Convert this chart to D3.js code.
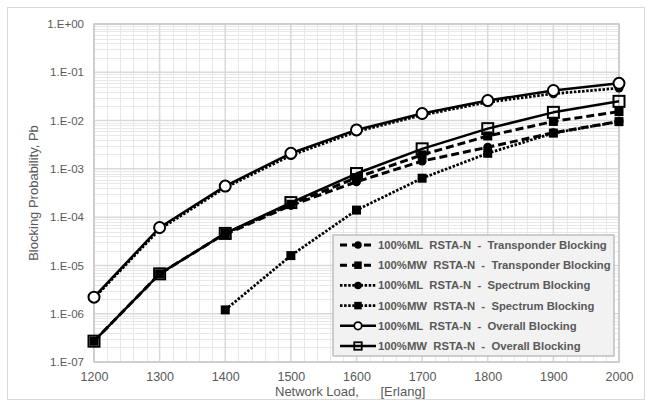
<!DOCTYPE html>
<html>
<head>
<meta charset="utf-8">
<script src="https://cdn.jsdelivr.net/npm/d3@7"></script>
<style>
  html, body { margin: 0; padding: 0; background: #fff; }
  svg { display: block; font-family: "Liberation Sans", Arial, sans-serif; }
</style>
</head>
<body>
<svg id="chart" width="651" height="403"></svg>
<script>
// Network load (Erlang) on the x axis
const loads = [1200, 1300, 1400, 1500, 1600, 1700, 1800, 1900, 2000];

// Blocking probability per scenario (null = no blocking observed)
const mlTransponder = [null, null, 4.4e-5, 1.75e-4, 5.4e-4, 1.45e-3, 2.8e-3, 5.6e-3, 9.6e-3];
const mwTransponder = [2.7e-7, 6.7e-6, 4.6e-5, 1.85e-4, 6.6e-4, 1.95e-3, 4.8e-3, 9.6e-3, 1.53e-2];
const mlSpectrum    = [2.1e-6, 5.6e-5, 4.1e-4, 1.9e-3, 5.9e-3, 1.3e-2, 2.4e-2, 3.6e-2, 4.7e-2];
const mwSpectrum    = [null, null, 1.2e-6, 1.6e-5, 1.4e-4, 6.4e-4, 2.1e-3, 5.5e-3, 9.5e-3];
const mlOverall     = [2.2e-6, 6.1e-5, 4.4e-4, 2.1e-3, 6.4e-3, 1.4e-2, 2.6e-2, 4.2e-2, 5.9e-2];
const mwOverall     = [2.7e-7, 6.7e-6, 4.6e-5, 2.0e-4, 8.0e-4, 2.6e-3, 6.8e-3, 1.48e-2, 2.5e-2];

const seriesNames = [
  "100%ML  RSTA-N  -  Transponder Blocking",
  "100%MW  RSTA-N  -  Transponder Blocking",
  "100%ML  RSTA-N  -  Spectrum Blocking",
  "100%MW  RSTA-N  -  Spectrum Blocking",
  "100%ML  RSTA-N  -  Overall Blocking",
  "100%MW  RSTA-N  -  Overall Blocking"
];

const xTickValues = [1200, 1300, 1400, 1500, 1600, 1700, 1800, 1900, 2000];
const yTickValues = [1e0, 1e-1, 1e-2, 1e-3, 1e-4, 1e-5, 1e-6, 1e-7];
const yTickLabels = ["1.E+00", "1.E-01", "1.E-02", "1.E-03", "1.E-04", "1.E-05", "1.E-06", "1.E-07"];

const xTitle = "Network Load,      [Erlang]";
const yTitle = "Blocking Probability, Pb";

// ---- layout ----
const svg = d3.select("#chart");
const plot = { left: 94, right: 619, top: 24, bottom: 362 };
const textColor = "#595959";

const x = d3.scaleLinear().domain([1200, 2000]).range([plot.left, plot.right]);
const y = d3.scaleLog().domain([1e-7, 1]).range([plot.bottom, plot.top]);

// outer chart frame
svg.append("rect")
  .attr("x", 7.5).attr("y", 7.5).attr("width", 637).attr("height", 392)
  .attr("fill", "#fff").attr("stroke", "#d9d9d9").attr("stroke-width", 1);

// ---- grid ----
const grid = svg.append("g");
const minorX = d3.range(1200, 2001, 20).filter(v => v % 100 !== 0);
const minorY = [];
for (let e = -7; e < 0; e++) for (let k = 2; k <= 9; k++) minorY.push(k * Math.pow(10, e));

grid.selectAll(".mx").data(minorX).join("line")
  .attr("x1", d => Math.round(x(d)) + 0.5).attr("x2", d => Math.round(x(d)) + 0.5)
  .attr("y1", plot.top).attr("y2", plot.bottom)
  .attr("stroke", "#e8e8e8").attr("stroke-width", 1);
grid.selectAll(".my").data(minorY).join("line")
  .attr("y1", d => Math.round(y(d)) + 0.5).attr("y2", d => Math.round(y(d)) + 0.5)
  .attr("x1", plot.left).attr("x2", plot.right)
  .attr("stroke", "#e8e8e8").attr("stroke-width", 1);
grid.selectAll(".Mx").data(xTickValues).join("line")
  .attr("x1", d => x(d)).attr("x2", d => x(d))
  .attr("y1", plot.top).attr("y2", plot.bottom)
  .attr("stroke", "#d9d9d9").attr("stroke-width", 1.5);
grid.selectAll(".My").data(yTickValues).join("line")
  .attr("y1", d => y(d)).attr("y2", d => y(d))
  .attr("x1", plot.left).attr("x2", plot.right)
  .attr("stroke", "#d9d9d9").attr("stroke-width", 1.5);

// plot area border
svg.append("rect")
  .attr("x", plot.left).attr("y", plot.top)
  .attr("width", plot.right - plot.left).attr("height", plot.bottom - plot.top)
  .attr("fill", "none").attr("stroke", "#c8c8c8").attr("stroke-width", 1.5);

// ---- axes ----
const xAxis = d3.axisBottom(x).tickValues(xTickValues).tickSize(0).tickPadding(10)
  .tickFormat(d3.format("d"));
const yAxis = d3.axisLeft(y).tickValues(yTickValues).tickSize(0).tickPadding(10)
  .tickFormat((d, i) => yTickLabels[i]);

const gx = svg.append("g").attr("transform", `translate(0,${plot.bottom})`).call(xAxis);
const gy = svg.append("g").attr("transform", `translate(${plot.left},0)`).call(yAxis);
[gx, gy].forEach(g => {
  g.select(".domain").remove();
  g.selectAll("text").attr("fill", textColor).style("font-family", "'Liberation Sans', Arial, sans-serif");
});
gx.selectAll("text").style("font-size", "12.5px");
gy.selectAll("text").style("font-size", "11.5px");

svg.append("text")
  .attr("x", 275).attr("y", 396)
  .style("white-space", "pre").style("font-size", "13px")
  .attr("fill", textColor).text(xTitle);
svg.append("text")
  .attr("transform", `translate(38,${(plot.top + plot.bottom) / 2}) rotate(-90)`)
  .attr("text-anchor", "middle").style("font-size", "13px")
  .attr("fill", textColor).text(yTitle);

// ---- series ----
const styles = [
  { values: mlTransponder, dash: "8,4",     width: 3,    marker: "circle", size: 9,  fill: "#000", stroke: "none" },
  { values: mwTransponder, dash: "8,4",     width: 3,    marker: "square", size: 9,  fill: "#000", stroke: "none" },
  { values: mlSpectrum,    dash: "2.5,1.6", width: 2.75, marker: "circle", size: 9,  fill: "#000", stroke: "none" },
  { values: mwSpectrum,    dash: "2.5,1.6", width: 2.75, marker: "square", size: 9,  fill: "#000", stroke: "none" },
  { values: mlOverall,     dash: null,      width: 2.5,  marker: "circle", size: 11, fill: "#fff", stroke: "#000" },
  { values: mwOverall,     dash: null,      width: 2.5,  marker: "square", size: 11, fill: "none", stroke: "#000" }
];

function drawMarker(g, kind, cx, cy, s) {
  if (kind === "circle") {
    return g.append("circle").attr("cx", cx).attr("cy", cy).attr("r", s / 2);
  }
  return g.append("rect").attr("x", cx - s / 2).attr("y", cy - s / 2).attr("width", s).attr("height", s);
}

const line = d3.line()
  .defined(d => d.v != null)
  .x(d => x(d.load))
  .y(d => y(d.v));

const seriesLayer = svg.append("g");
styles.forEach(st => {
  const pts = loads.map((load, i) => ({ load, v: st.values[i] }));
  const g = seriesLayer.append("g");
  g.append("path")
    .attr("d", line(pts))
    .attr("fill", "none").attr("stroke", "#000")
    .attr("stroke-width", st.width)
    .attr("stroke-dasharray", st.dash)
    .attr("stroke-linejoin", "round");
  pts.filter(p => p.v != null).forEach(p => {
    drawMarker(g, st.marker, x(p.load), y(p.v), st.size)
      .attr("fill", st.fill)
      .attr("stroke", st.stroke)
      .attr("stroke-width", st.stroke === "none" ? 0 : 2);
  });
});

// ---- legend ----
const legend = svg.append("g");
legend.append("rect")
  .attr("x", 333).attr("y", 235).attr("width", 281).attr("height", 121)
  .attr("fill", "#f2f2f2").attr("stroke", "#bfbfbf").attr("stroke-width", 1.5);

styles.forEach((st, i) => {
  const cy = 245 + i * 20.2;
  const row = legend.append("g");
  row.append("line")
    .attr("x1", 340).attr("x2", 376).attr("y1", cy).attr("y2", cy)
    .attr("stroke", "#000").attr("stroke-width", st.width)
    .attr("stroke-dasharray", st.dash ? (st.dash === "8,4" ? "7,5" : st.dash) : null);
  drawMarker(row, st.marker, 358, cy, 7.5)
    .attr("fill", st.fill)
    .attr("stroke", st.stroke).attr("stroke-width", st.stroke === "none" ? 0 : 1.8);
  row.append("text")
    .attr("x", 378).attr("y", cy + 4)
    .style("white-space", "pre").style("font-size", "11.3px").style("font-weight", "bold")
    .attr("fill", textColor).text(seriesNames[i]);
});
</script>
</body>
</html>
